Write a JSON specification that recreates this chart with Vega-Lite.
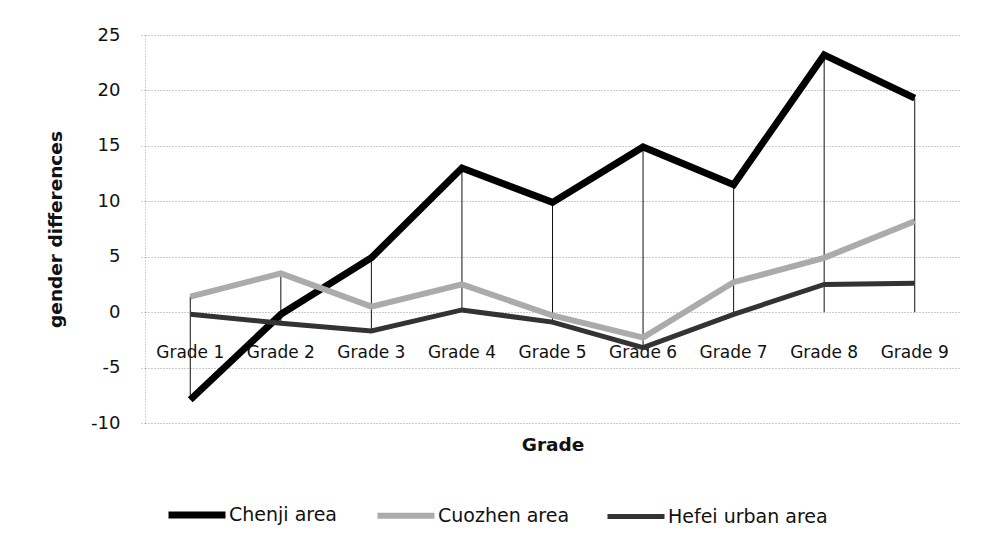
{
  "$schema": "https://vega.github.io/schema/vega-lite/v6.json",
  "width": 815,
  "height": 388,
  "autosize": {"type": "none"},
  "padding": {"left": 145, "top": 35, "right": 25, "bottom": 124},
  "background": "white",
  "config": {
    "font": "DejaVu Sans",
    "view": {"stroke": null},
    "axis": {"labelFont": "DejaVu Sans", "titleFont": "DejaVu Sans", "labelColor": "#111", "titleColor": "#111"}
  },
  "datasets": {
    "series": [
      {"grade": "Grade 1", "series": "Chenji area", "value": -7.9},
      {"grade": "Grade 2", "series": "Chenji area", "value": -0.2},
      {"grade": "Grade 3", "series": "Chenji area", "value": 4.9},
      {"grade": "Grade 4", "series": "Chenji area", "value": 13.0},
      {"grade": "Grade 5", "series": "Chenji area", "value": 9.9},
      {"grade": "Grade 6", "series": "Chenji area", "value": 14.9},
      {"grade": "Grade 7", "series": "Chenji area", "value": 11.5},
      {"grade": "Grade 8", "series": "Chenji area", "value": 23.2},
      {"grade": "Grade 9", "series": "Chenji area", "value": 19.3},
      {"grade": "Grade 1", "series": "Cuozhen area", "value": 1.4},
      {"grade": "Grade 2", "series": "Cuozhen area", "value": 3.5},
      {"grade": "Grade 3", "series": "Cuozhen area", "value": 0.5},
      {"grade": "Grade 4", "series": "Cuozhen area", "value": 2.5},
      {"grade": "Grade 5", "series": "Cuozhen area", "value": -0.3},
      {"grade": "Grade 6", "series": "Cuozhen area", "value": -2.3},
      {"grade": "Grade 7", "series": "Cuozhen area", "value": 2.7},
      {"grade": "Grade 8", "series": "Cuozhen area", "value": 4.9},
      {"grade": "Grade 9", "series": "Cuozhen area", "value": 8.2},
      {"grade": "Grade 1", "series": "Hefei urban area", "value": -0.2},
      {"grade": "Grade 2", "series": "Hefei urban area", "value": -1.0},
      {"grade": "Grade 3", "series": "Hefei urban area", "value": -1.7},
      {"grade": "Grade 4", "series": "Hefei urban area", "value": 0.2},
      {"grade": "Grade 5", "series": "Hefei urban area", "value": -0.9},
      {"grade": "Grade 6", "series": "Hefei urban area", "value": -3.2},
      {"grade": "Grade 7", "series": "Hefei urban area", "value": -0.2},
      {"grade": "Grade 8", "series": "Hefei urban area", "value": 2.5},
      {"grade": "Grade 9", "series": "Hefei urban area", "value": 2.6}
    ],
    "drops": [
      {"grade": "Grade 1", "hi": 1.4, "lo": -7.9},
      {"grade": "Grade 2", "hi": 3.5, "lo": -1.0},
      {"grade": "Grade 3", "hi": 4.9, "lo": -1.7},
      {"grade": "Grade 4", "hi": 13.0, "lo": 0},
      {"grade": "Grade 5", "hi": 9.9, "lo": -0.9},
      {"grade": "Grade 6", "hi": 14.9, "lo": -3.2},
      {"grade": "Grade 7", "hi": 11.5, "lo": -0.2},
      {"grade": "Grade 8", "hi": 23.2, "lo": 0},
      {"grade": "Grade 9", "hi": 19.3, "lo": 0}
    ]
  },
  "layer": [
    {
      "data": {"name": "drops"},
      "mark": {"type": "rule", "color": "#111", "strokeWidth": 1},
      "encoding": {
        "x": {
          "field": "grade", "type": "nominal", "sort": null,
          "scale": {"type": "band", "paddingInner": 0, "paddingOuter": 0},
          "axis": {"title": "Grade", "labels": false, "ticks": false, "domain": false, "grid": false,
                   "titleFontSize": 18.5, "titleFontWeight": "bold", "titlePadding": 12}
        },
        "y": {
          "field": "hi", "type": "quantitative",
          "scale": {"domain": [-10, 25], "nice": false, "zero": false},
          "axis": {
            "title": "gender differences", "values": [-10, -5, 0, 5, 10, 15, 20, 25],
            "labelExpr": "'' + datum.value",
            "labelFontSize": 18, "labelPadding": 19,
            "ticks": true, "tickSize": 6, "tickColor": "#aaa", "tickDash": [1, 2],
            "domain": true, "domainColor": "#aaa", "domainDash": [1, 2],
            "grid": true, "gridColor": "#999", "gridDash": [1, 2], "gridWidth": 1,
            "titleFontSize": 18.5, "titleFontWeight": "bold", "titleX": -80
          }
        },
        "y2": {"field": "lo"}
      }
    },
    {
      "data": {"name": "series"},
      "transform": [{"filter": "datum.series === 'Chenji area'"}],
      "mark": {"type": "text", "fontSize": 17, "baseline": "alphabetic", "dy": 46, "color": "#111", "font": "DejaVu Sans"},
      "encoding": {
        "x": {"field": "grade", "type": "nominal", "sort": null},
        "y": {"datum": 0, "type": "quantitative"},
        "text": {"field": "grade"}
      }
    },
    {
      "data": {"name": "series"},
      "mark": {"type": "line", "strokeJoin": "miter", "strokeCap": "butt"},
      "encoding": {
        "x": {"field": "grade", "type": "nominal", "sort": null},
        "y": {"field": "value", "type": "quantitative"},
        "color": {
          "field": "series", "type": "nominal",
          "scale": {"domain": ["Chenji area", "Cuozhen area", "Hefei urban area"], "range": ["#000000", "#ababab", "#333333"]},
          "legend": {
            "title": null, "orient": "none", "legendX": 20, "legendY": 448, "direction": "horizontal", "columns": 3,
            "symbolType": "stroke", "symbolSize": 3249, "symbolStrokeWidth": 5,
            "labelFontSize": 19, "labelFont": "DejaVu Sans", "labelColor": "#111", "labelOffset": 0,
            "labelLimit": 400, "columnPadding": 27
          }
        },
        "strokeWidth": {
          "field": "series", "type": "ordinal",
          "scale": {"domain": ["Chenji area", "Cuozhen area", "Hefei urban area"], "range": [7, 5, 6]},
          "legend": null
        }
      }
    }
  ]
}
